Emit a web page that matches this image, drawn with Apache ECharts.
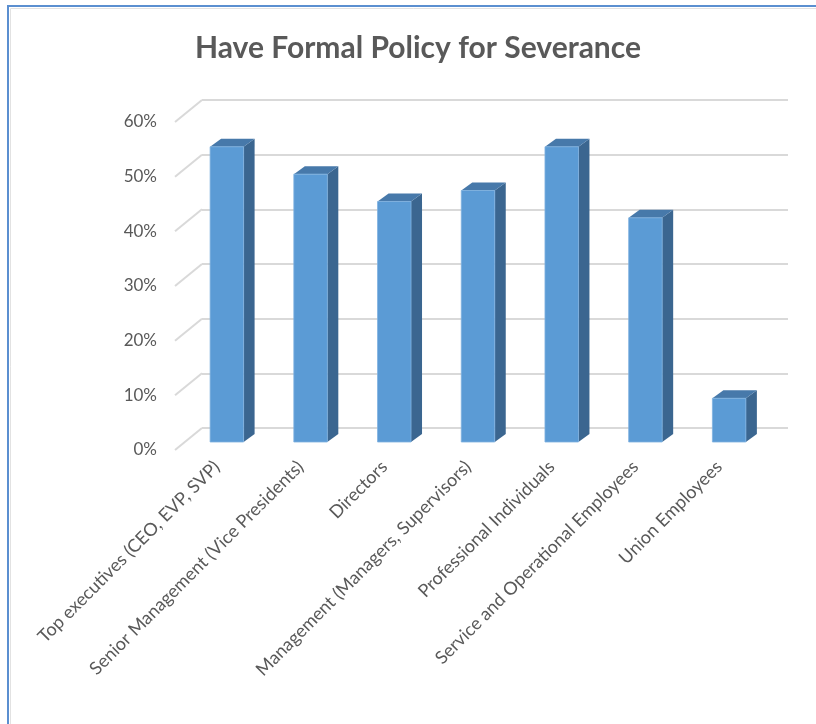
<!DOCTYPE html>
<html>
<head>
<meta charset="utf-8">
<script src="https://cdn.jsdelivr.net/npm/echarts@6/dist/echarts.min.js"></script>
<style>
  html, body { margin: 0; padding: 0; background: #ffffff; }
  #chart { width: 816px; height: 724px; }
</style>
</head>
<body>
<div id="chart"></div>
<script>
// Employee groups and the share of companies with a formal severance policy
const categories = [
  'Top executives (CEO, EVP, SVP)',
  'Senior Management (Vice Presidents)',
  'Directors',
  'Management (Managers, Supervisors)',
  'Professional Individuals',
  'Service and Operational Employees',
  'Union Employees'
];
const shares = [54, 49, 44, 46, 54, 41, 8];
const tickValues = [0, 10, 20, 30, 40, 50, 60];

// Pseudo-3D box: back wall sits up-right of the front plane
const WALL_DX = 27, WALL_DY = -22;
// Extrusion of each column
const BAR_DX = 11, BAR_DY = -8;

const TEXT = '#595959';
const GRID_LINE = '#d9d9d9';
const FONT = 'Lato, "Open Sans", sans-serif';

const chart = echarts.init(document.getElementById('chart'), null, { renderer: 'canvas' });

const yBase = { type: 'value', min: 0, max: 60, interval: 10 };

chart.setOption({
  animation: false,
  backgroundColor: '#ffffff',
  title: {
    text: 'Have Formal Policy for Severance',
    left: 190,
    top: 28,
    textStyle: { fontFamily: FONT, fontWeight: 'bold', fontSize: 30, color: TEXT }
  },
  graphic: [
    {
      type: 'rect',
      shape: { x: 8, y: 6, width: 830, height: 740 },
      style: { fill: null, stroke: '#5b8fd0', lineWidth: 2 },
      silent: true
    },
    {
      type: 'rect',
      shape: { x: 10.5, y: 8.5, width: 830, height: 740 },
      style: { fill: null, stroke: '#e2e2e2', lineWidth: 1 },
      silent: true
    }
  ],
  grid: [
    // front plane: axis labels
    { left: 175, top: 122, width: 586, height: 328 },
    // back wall: gridlines
    { left: 202, top: 100, width: 586, height: 328 },
    // column plane
    { left: 185, top: 114, width: 586, height: 328 }
  ],
  xAxis: [
    {
      gridIndex: 0, type: 'category', data: categories,
      axisLine: { show: false }, axisTick: { show: false },
      axisLabel: {
        rotate: 45, interval: 0, margin: 14,
        color: TEXT, fontFamily: FONT, fontSize: 18
      }
    },
    { gridIndex: 1, type: 'category', data: categories, show: false },
    { gridIndex: 2, type: 'category', data: categories, show: false }
  ],
  yAxis: [
    Object.assign({}, yBase, {
      gridIndex: 0,
      axisLine: { show: false }, axisTick: { show: false },
      splitLine: { show: false },
      axisLabel: { formatter: '{value}%', margin: 18, color: TEXT, fontFamily: FONT, fontSize: 17 }
    }),
    Object.assign({}, yBase, {
      gridIndex: 1,
      axisLine: { show: false }, axisTick: { show: false }, axisLabel: { show: false },
      splitLine: { show: true, lineStyle: { color: GRID_LINE, width: 2 } }
    }),
    Object.assign({}, yBase, { gridIndex: 2, show: false })
  ],
  series: [
    {
      // side-wall gridlines running from the front edge back to the wall
      type: 'custom',
      xAxisIndex: 1, yAxisIndex: 1,
      data: tickValues.map(v => [0, v]),
      encode: { x: 0, y: 1 },
      silent: true,
      z: 1,
      renderItem: function (params, api) {
        const cs = params.coordSys;
        const y = api.coord([0, api.value(1)])[1];
        return {
          type: 'line',
          shape: { x1: cs.x - WALL_DX, y1: y - WALL_DY, x2: cs.x, y2: y },
          style: { stroke: GRID_LINE, lineWidth: 2 }
        };
      }
    },
    {
      // extruded columns
      type: 'custom',
      xAxisIndex: 2, yAxisIndex: 2,
      data: shares.map((v, i) => [i, v]),
      encode: { x: 0, y: 1 },
      z: 3,
      renderItem: function (params, api) {
        const idx = api.value(0);
        const base = api.coord([idx, 0]);
        const top = api.coord([idx, api.value(1)]);
        const w = api.size([1, 0])[0] * 0.4;
        const x0 = base[0] - w / 2, x1 = base[0] + w / 2;
        const yt = top[1], yb = base[1];
        return {
          type: 'group',
          children: [
            {
              type: 'polygon',
              shape: { points: [[x1, yt], [x1 + BAR_DX, yt + BAR_DY], [x1 + BAR_DX, yb + BAR_DY], [x1, yb]] },
              style: { fill: '#3b6690' }
            },
            {
              type: 'polygon',
              shape: { points: [[x0, yt], [x0 + BAR_DX, yt + BAR_DY], [x1 + BAR_DX, yt + BAR_DY], [x1, yt]] },
              style: { fill: '#4779aa' }
            },
            {
              type: 'rect',
              shape: { x: x0, y: yt, width: w, height: yb - yt },
              style: { fill: '#5b9bd5', stroke: '#7fb1e0', lineWidth: 0.8 }
            }
          ]
        };
      }
    }
  ]
});
</script>
</body>
</html>
